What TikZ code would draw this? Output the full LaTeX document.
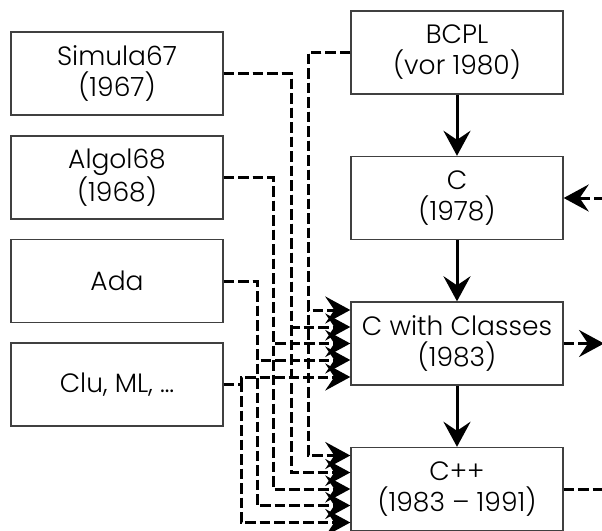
\documentclass[tikz,border=0pt]{standalone}
\usepackage{fontspec}
\setmainfont{Poppins Light}
\usetikzlibrary{arrows.meta,calc}
\begin{document}
\begin{tikzpicture}[x=1pt,y=-1pt,
  box/.style={draw=black!75,line width=1.4pt,minimum width=212pt,minimum height=83pt,
    inner sep=0pt,align=center,font=\fontsize{26.5}{31}\selectfont},
  tip/.style={-{Stealth[length=25pt,width=27pt,inset=9pt]}},
  flow/.style={line width=3pt,tip},
  dep/.style={line width=3pt,dash pattern=on 10.5pt off 4pt},
  deparrow/.style={dep,tip}]
\useasboundingbox (0,0) rectangle (602,530);
\begin{scope}
\clip (0,0) rectangle (602,530);
% source languages on the left
\node[box] (sim) at (117,73.5) {Simula67\\(1967)};
\node[box] (alg) at (117,177.5) {Algol68\\(1968)};
\node[box] (ada) at (117,281) {Ada};
\node[box] (clu) at (117,384.5) {Clu, ML, \dots};
% main line of descent
\node[box] (bcpl) at (457,52.5) {BCPL\\(vor 1980)};
\node[box] (c) at (457,198) {C\\(1978)};
\node[box] (cwc) at (457,343.5) {C with Classes\\(1983)};
\node[box] (cpp) at (457,489) {C++\\(1983 – 1991)};
% entry points on the left edges
\foreach \i/\d in {1/-33.5,2/-16.5,3/0,4/16.5,5/33.5}{
  \coordinate (cw\i) at ($(cwc.west)+(0,\d)$);
  \coordinate (cp\i) at ($(cpp.west)+(0,\d)$);
}
% vertical trunks of the influence lines
\coordinate (v1) at (308,0);
\coordinate (v2) at (291,0);
\coordinate (v3) at (273,0);
\coordinate (v4) at (257,0);
\coordinate (v5) at (241,0);
% dangling ends on the right
\coordinate (cin) at (604,198);
\coordinate (cout) at (604,343.5);
\coordinate (ppout) at (604,489);
\foreach \s/\v/\k in {bcpl.west/v1/1,sim.east/v2/2,alg.east/v3/3,ada.east/v4/4,clu.east/v5/5}{
  \draw[deparrow] (\s) -| (\v |- cw\k) -- (cw\k);
  \draw[deparrow] (\s) -| (\v |- cp\k) -- (cp\k);
}
\draw[flow] (bcpl) -- (c);
\draw[flow] (c) -- (cwc);
\draw[flow] (cwc) -- (cpp);
\draw[deparrow] (cin) -- (c.east);
\draw[deparrow] (cwc.east) -- (cout);
\draw[dep] (cpp.east) -- (ppout);
\end{scope}
\end{tikzpicture}
\end{document}
